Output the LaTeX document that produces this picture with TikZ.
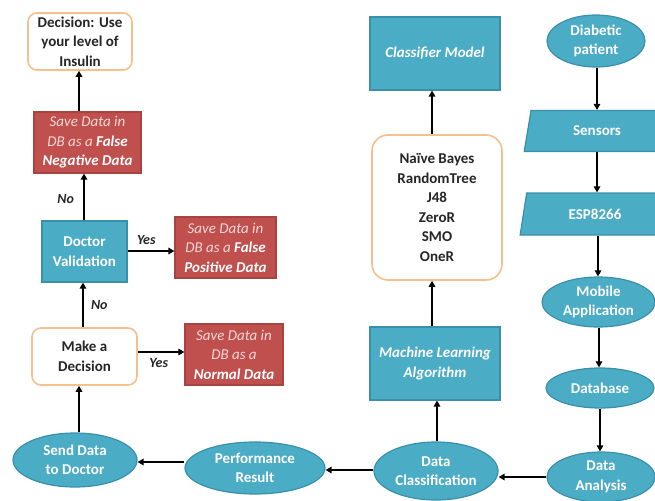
\documentclass[tikz,border=0pt]{standalone}
\usepackage{fontspec}
\setmainfont{Carlito}
\usetikzlibrary{shapes.geometric,arrows.meta}

\definecolor{cblue}{HTML}{4BACC6}
\definecolor{cblueline}{HTML}{3A90AA}
\definecolor{cred}{HTML}{C0504D}
\definecolor{credline}{HTML}{A84440}
\definecolor{cpink}{HTML}{F6D9D8}
\definecolor{corange}{HTML}{F5C08E}
\definecolor{ctext}{HTML}{262626}

\newcommand\redbold[1]{\textcolor{white}{\bfseries #1}}

\tikzset{
  base/.style={align=center, inner sep=0pt,
    font=\fontsize{15}{19.5}\selectfont\bfseries},
  bluebox/.style={base, rectangle, fill=cblue, draw=cblueline, line width=1.2pt, text=white},
  redbox/.style={base, rectangle, fill=cred, draw=credline, line width=1.2pt, text=cpink,
    font=\fontsize{15}{19.5}\selectfont\itshape},
  oval/.style={base, ellipse, inner sep=-8pt, fill=cblue, draw=cblueline, line width=1.2pt, text=white},
  softbox/.style={base, rectangle, rounded corners=9pt, draw=corange, line width=1.6pt,
    fill=white, text=ctext},
  para/.style={base, trapezium, trapezium left angle=79, trapezium right angle=101,
    trapezium stretches=true, fill=cblue, draw=cblueline, line width=1.2pt, text=white},
  arr/.style={-{Triangle[length=6pt,width=6.5pt]}, line width=2pt, black},
  lbl/.style={font=\fontsize{14}{16}\selectfont\bfseries\itshape, text=ctext, inner sep=0pt}
}

\begin{document}
\begin{tikzpicture}[x=1pt,y=-1pt]
\useasboundingbox (0,0) rectangle (655,500);

% right column: data acquisition
\node[oval, minimum width=98pt, minimum height=52pt] (patient) at (596,41) {Diabetic\\patient};
\node[para, minimum width=154pt, minimum height=41pt] (sensors) at (601,131) {\hspace*{-8pt}Sensors};
\node[para, minimum width=158pt, minimum height=42pt] (esp) at (599,214) {\hspace*{-8pt}ESP8266};
\node[oval, minimum width=113pt, minimum height=50pt] (mobile) at (598.5,302) {Mobile\\Application};
\node[oval, minimum width=108pt, minimum height=40pt] (db) at (600,388) {Database};
\node[oval, minimum width=108pt, minimum height=50pt] (analysis) at (601,477) {Data\\Analysis};

% middle column: classification
\node[oval, minimum width=124pt, minimum height=58pt] (classif) at (436,471) {Data\\Classification};
\node[bluebox, minimum width=130pt, minimum height=73pt,
      font=\fontsize{15}{19.5}\selectfont\bfseries\itshape] (ml) at (435,363.5) {Machine Learning\\Algorithm};
\node[softbox, rounded corners=16pt, minimum width=130pt, minimum height=145pt] (algos) at (437,207.5)
  {Na\"ive Bayes\\RandomTree\\J48\\ZeroR\\SMO\\OneR};
\node[bluebox, minimum width=130pt, minimum height=73pt,
      font=\fontsize{15}{19.5}\selectfont\bfseries\itshape] (model) at (435,53.5) {Classifier Model};

% bottom row and left column: decision chain
\node[oval, minimum width=140pt, minimum height=52pt] (perf) at (255,468) {Performance\\Result};
\node[oval, minimum width=124pt, minimum height=54pt] (send) at (75,460) {Send Data\\to Doctor};
\node[softbox, minimum width=105pt, minimum height=57pt] (decide) at (84.5,356.5) {Make a\\Decision};
\node[redbox, minimum width=98pt, minimum height=61pt] (normal) at (234,354.5)
  {Save Data in\\DB as a\\\redbold{Normal Data}};
\node[bluebox, minimum width=85pt, minimum height=61pt] (doctor) at (84.5,251.5) {Doctor\\Validation};
\node[redbox, minimum width=101pt, minimum height=61pt] (fpos) at (225.5,247.5)
  {Save Data in\\DB as a \redbold{False}\\\redbold{Positive Data}};
\node[redbox, minimum width=107pt, minimum height=61pt] (fneg) at (87.5,142.5)
  {Save Data in\\DB as a \redbold{False}\\\redbold{Negative Data}};
\node[softbox, minimum width=104pt, minimum height=57pt] (insulin) at (80,41.5)
  {Decision: Use\\your level of\\Insulin};

% connectors
\draw[arr] (patient.south -| 597,0) -- (597,0 |- sensors.north);
\draw[arr] (sensors.south -| 597,0) -- (597,0 |- esp.north);
\draw[arr] (esp.south -| 598,0) -- (598,0 |- mobile.north);
\draw[arr] (mobile.south -| 599,0) -- (599,0 |- db.north);
\draw[arr] (db.south -| 600,0) -- (600,0 |- analysis.north);
\draw[arr] (analysis.west |- 0,477) -- (classif.east |- 0,477);
\draw[arr] (classif.north -| 437,0) -- (437,0 |- ml.south);
\draw[arr] (ml.north -| 432,0) -- (432,0 |- algos.south);
\draw[arr] (algos.north -| 432,0) -- (432,0 |- model.south);
\draw[arr] (classif.west |- 0,470) -- (perf.east |- 0,470);
\draw[arr] (perf.west |- 0,462) -- (send.east |- 0,462);
\draw[arr] (send.north -| 79,0) -- (79,0 |- decide.south);
\draw[arr] (decide.east |- 0,352) -- (normal.west |- 0,352) node[lbl, pos=0.45, below=5pt] {Yes};
\draw[arr] (decide.north -| 83,0) -- (83,0 |- doctor.south) node[lbl, midway, right=7pt] {No};
\draw[arr] (doctor.east |- 0,251) -- (fpos.west |- 0,251) node[lbl, pos=0.4, above=5pt] {Yes};
\draw[arr] (doctor.north -| 84,0) -- (84,0 |- fneg.south) node[lbl, pos=0.45, left=9pt] {No};
\draw[arr] (fneg.north -| 79,0) -- (79,0 |- insulin.south);
\end{tikzpicture}
\end{document}
